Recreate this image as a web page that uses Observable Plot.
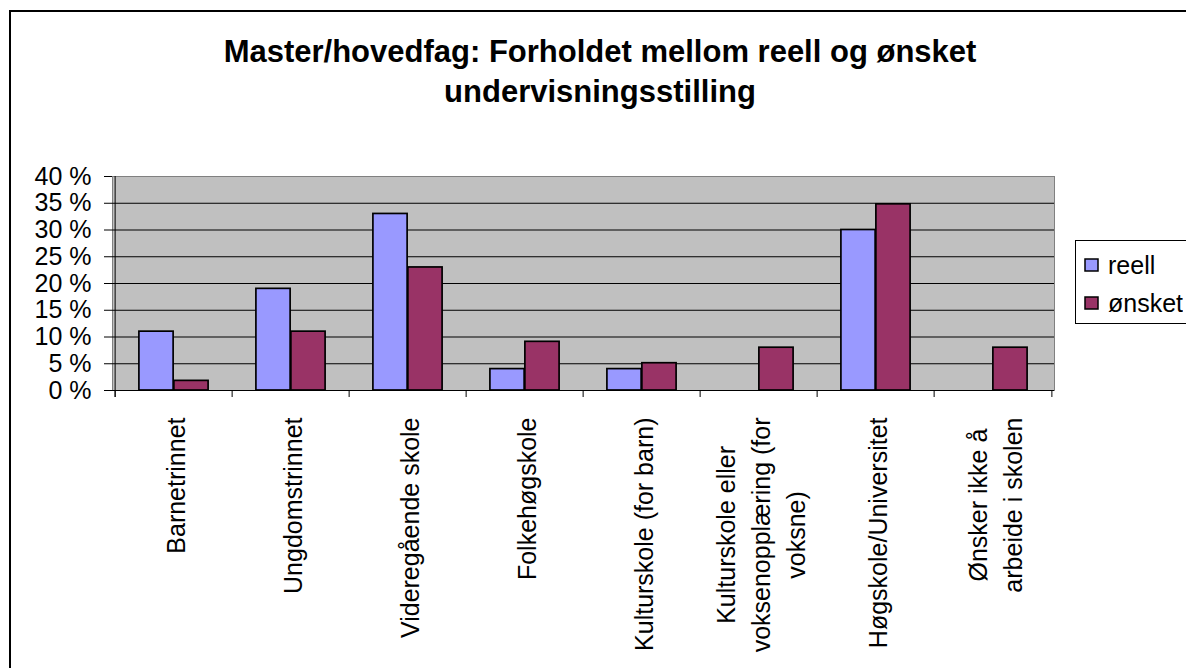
<!DOCTYPE html>
<html>
<head>
<meta charset="utf-8">
<script src="https://cdn.jsdelivr.net/npm/d3@7"></script>
<script src="https://cdn.jsdelivr.net/npm/@observablehq/plot@0.6"></script>
<style>
html, body { margin: 0; padding: 0; background: #fff; overflow: hidden; }
#wrap { position: relative; width: 1186px; height: 668px; overflow: hidden; font-family: "Liberation Sans", Arial, sans-serif; color: #000; }
#border { position: absolute; left: 9px; top: 10px; width: 1200px; height: 700px; border: 2px solid #000; box-sizing: border-box; }
#title { position: absolute; left: 0; top: 32px; width: 1200px; text-align: center; font-weight: bold; font-size: 31px; line-height: 40px; }
#chart { position: absolute; left: 0; top: 0; }
#legend { position: absolute; left: 1075px; top: 240px; width: 140px; height: 84px; border: 1px solid #000; box-sizing: border-box; background: #fff; padding: 5px 0 0 9px; }
#legend .lg-swatches { font-family: "Liberation Sans", Arial, sans-serif; font-size: 25px; margin: 0; color: #000; }
#legend .lg-swatch { height: 38px; padding: 0; }
#legend .lg-swatch > svg { margin-right: 10px; overflow: visible; }
#legend .lg-swatch rect { stroke: #000; stroke-width: 1.5px; }
</style>
</head>
<body>
<div id="wrap">
  <div id="border"></div>
  <div id="title"></div>
  <div id="chart"></div>
  <div id="legend"></div>
</div>
<script>
const titleLines = ["Master/hovedfag: Forholdet mellom reell og ønsket", "undervisningsstilling"];
const categories = [
  "Barnetrinnet",
  "Ungdomstrinnet",
  "Videregående skole",
  "Folkehøgskole",
  "Kulturskole (for barn)",
  "Kulturskole eller voksenopplæring (for voksne)",
  "Høgskole/Universitet",
  "Ønsker ikke å arbeide i skolen"
];
const tickLabels = [
  "Barnetrinnet",
  "Ungdomstrinnet",
  "Videregående skole",
  "Folkehøgskole",
  "Kulturskole (for barn)",
  "Kulturskole eller\nvoksenopplæring (for\nvoksne)",
  "Høgskole/Universitet",
  "Ønsker ikke å\narbeide i skolen"
];
const seriesNames = ["reell", "ønsket"];
const reell  = [11, 19, 33, 4, 4, null, 30, null];
const onsket = [1.8, 11, 23, 9.1, 5.1, 8, 34.8, 8];
const yTicks = [0, 5, 10, 15, 20, 25, 30, 35, 40];
const colors = ["#9999FF", "#993366"];

document.getElementById("title").innerHTML = titleLines.join("<br>");

const W = 1186, H = 668, mL = 112, mR = 132, mT = 176, mB = 278;
const step = (W - mL - mR) / categories.length;
const half = step / 2;
const gap = step * 0.203;

const rowsReell = categories.map((c, i) => ({cat: c, series: seriesNames[0], value: reell[i]}));
const rowsOnsket = categories.map((c, i) => ({cat: c, series: seriesNames[1], value: onsket[i]}));
const labelOf = new Map(categories.map((c, i) => [c, tickLabels[i]]));

const plot = Plot.plot({
  width: W, height: H,
  marginLeft: mL, marginRight: mR, marginTop: mT, marginBottom: mB,
  style: {fontFamily: "'Liberation Sans', Arial, sans-serif", fontSize: "25px", color: "#000", background: "transparent", overflow: "visible"},
  x: {type: "band", domain: categories, padding: 0, axis: null, label: null},
  y: {domain: [0, 40], axis: null, label: null},
  color: {domain: seriesNames, range: colors},
  marks: [
    Plot.frame({fill: "#C0C0C0", stroke: "#808080"}),
    Plot.gridY(yTicks.slice(1, -1), {stroke: "#000", strokeOpacity: 1, strokeWidth: 1}),
    Plot.barY(rowsReell, {x: "cat", y: "value", fill: "series", stroke: "#000", strokeWidth: 1.7, insetLeft: gap, insetRight: half}),
    Plot.barY(rowsOnsket, {x: "cat", y: "value", fill: "series", stroke: "#000", strokeWidth: 1.7, insetLeft: half, insetRight: gap}),
    Plot.ruleY([0], {stroke: "#000"}),
    Plot.ruleX([categories[0]], {dx: -half, insetBottom: -7, stroke: "#000"}),
    Plot.axisY(yTicks, {tickSize: 8, tickPadding: 13, label: null, tickFormat: d => `${d} %`}),
    Plot.axisX(categories, {tickSize: 7, dx: -half, label: null, tickFormat: () => ""}),
    Plot.axisX([categories[categories.length - 1]], {tickSize: 7, dx: half, label: null, tickFormat: () => ""}),
    Plot.axisX(categories, {tickSize: 0, tickPadding: 27, tickRotate: -90, lineHeight: 1.4, label: null, tickFormat: d => labelOf.get(d)})
  ]
});
document.getElementById("chart").append(plot);

// center the lines of multi-line rotated labels within their block
plot.querySelectorAll('g[aria-label="x-axis tick label"] text').forEach(t => {
  const sp = t.querySelectorAll("tspan");
  if (sp.length > 1) {
    const L = Math.max(...[...sp].map(s => s.getComputedTextLength()));
    t.setAttribute("text-anchor", "middle");
    sp.forEach(s => s.setAttribute("x", -L / 2));
  }
});

const legend = plot.legend("color", {legend: "swatches", columns: 1, swatchWidth: 13, swatchHeight: 12, className: "lg"});
document.getElementById("legend").append(legend);
</script>
</body>
</html>
